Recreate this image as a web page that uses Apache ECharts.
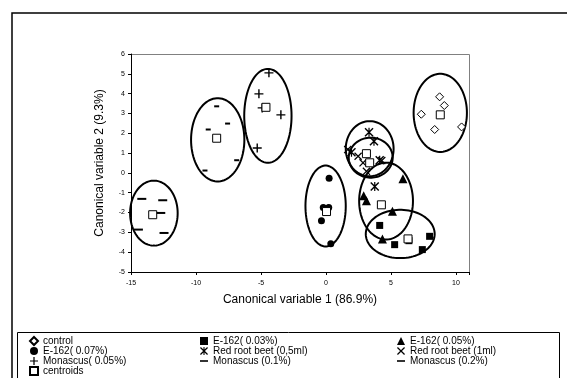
<!DOCTYPE html>
<html>
<head>
<meta charset="utf-8">
<script src="https://cdn.jsdelivr.net/npm/echarts@6/dist/echarts.min.js"></script>
<style>
  html, body { margin: 0; padding: 0; background: #fff; }
  #chart { width: 567px; height: 378px; }
</style>
</head>
<body>
<div id="chart"></div>
<script>
// Canonical discriminant scores, one pair of arrays per treatment group
const controlX = [8.74, 9.10, 7.33, 8.36, 10.43];
const controlY = [3.84, 3.40, 2.96, 2.19, 2.32];
const e162_003X = [4.13, 5.28, 6.38, 7.97, 7.41];
const e162_003Y = [-2.65, -3.62, -3.42, -3.20, -3.87];
const e162_005X = [5.92, 3.11, 5.11, 4.34, 2.90];
const e162_005Y = [-0.29, -1.40, -1.94, -3.33, -1.15];
const e162_007X = [0.24, -0.21, 0.21, -0.35, 0.37];
const e162_007Y = [-0.27, -1.74, -1.74, -2.41, -3.57];
const beet05X = [3.31, 3.69, 1.96, 4.13, 3.75];
const beet05Y = [2.05, 1.60, 1.04, 0.64, -0.68];
const beet1X = [1.67, 2.47, 2.85, 3.11, 4.29];
const beet1Y = [1.18, 0.84, 0.51, 0.08, 0.62];
const mon005X = [-4.39, -5.16, -4.91, -5.29, -3.47];
const mon005Y = [5.05, 3.99, 3.28, 1.26, 2.93];
const mon01X = [-8.41, -9.06, -7.57, -6.87, -9.31];
const mon01Y = [3.36, 2.19, 2.49, 0.64, 0.12];
const mon02X = [-14.17, -12.56, -14.43, -12.46, -12.71];
const mon02Y = [-1.31, -1.38, -2.86, -3.03, -2.02];

// Group centroids
const centroidX = [8.79, -13.33, -8.41, -4.62, 0.04, 4.26, 6.31, 3.11, 3.36];
const centroidY = [2.93, -2.11, 1.75, 3.31, -1.95, -1.61, -3.33, 0.97, 0.51];

// Confidence ellipses: centre and semi-axes in canonical units
const ellipseCx = [8.79, -13.24, -8.33, -4.47, -0.03, 3.36, 3.44, 4.62, 5.71];
const ellipseCy = [3.03, -2.03, 1.67, 2.88, -1.67, 1.22, 0.77, -1.42, -3.08];
const ellipseRx = [2.05, 1.83, 2.05, 1.82, 1.55, 1.84, 1.69, 2.07, 2.65];
const ellipseRy = [1.97, 1.64, 2.10, 2.37, 2.04, 1.39, 1.01, 1.94, 1.22];

// Axis ranges
const xMin = -15, xMax = 11, xStep = 5;
const yMin = -5, yMax = 6, yStep = 1;

const FONT = '"Liberation Sans", Arial, sans-serif';

function pairs(xs, ys) { return xs.map((x, i) => [x, ys[i]]); }

// Outline-style markers as filled paths
const PLUS = 'path://M3.8,0H5.2V9H3.8Z M0,3.8H9V5.2H0Z';
const CROSS = 'path://M0,1L1,0L9,8L8,9Z M8,0L9,1L1,9L0,8Z';
const STAR = 'path://M0,1L1,0L9,8L8,9Z M8,0L9,1L1,9L0,8Z M3.9,0H5.1V9H3.9Z';
const DASH = 'path://M0,0H10V2H0Z';

function pts(name, xs, ys, symbol, size, style) {
  return {
    name, type: 'scatter', data: pairs(xs, ys), symbol, symbolSize: size,
    itemStyle: Object.assign({ color: '#000', opacity: 1 }, style || {}),
    z: 3, silent: true
  };
}

const ellipseData = ellipseCx.map((c, i) => [c, ellipseCy[i], ellipseRx[i], ellipseRy[i]]);

const chart = echarts.init(document.getElementById('chart'), null, { renderer: 'canvas' });

const legendText = { fontFamily: FONT, fontSize: 10, color: '#000', lineHeight: 10 };
const legendBase = {
  orient: 'vertical', itemWidth: 8, itemHeight: 8, itemGap: 0, height: 80,
  textStyle: legendText, selectedMode: false, padding: 0
};

chart.setOption({
  animation: false,
  backgroundColor: '#fff',
  grid: { left: 131, right: 98, top: 54, bottom: 106, show: false },
  xAxis: {
    type: 'value', min: xMin, max: xMax, interval: xStep,
    name: 'Canonical variable 1 (86.9%)', nameLocation: 'middle', nameGap: 22,
    nameTextStyle: { fontFamily: FONT, fontSize: 12, color: '#000' },
    axisLine: { show: true, onZero: false, lineStyle: { color: '#000', width: 1 } },
    axisTick: { show: true, length: 3, lineStyle: { color: '#000' } },
    axisLabel: { fontFamily: FONT, fontSize: 7, color: '#000', margin: 8,
      formatter: v => (v % xStep === 0 ? String(v) : '') },
    splitLine: { show: false }
  },
  yAxis: {
    type: 'value', min: yMin, max: yMax, interval: yStep,
    name: 'Canonical variable 2 (9.3%)', nameLocation: 'middle', nameGap: 25,
    nameTextStyle: { fontFamily: FONT, fontSize: 12, color: '#000' },
    axisLine: { show: true, onZero: false, lineStyle: { color: '#000', width: 1 } },
    axisTick: { show: true, length: 3, lineStyle: { color: '#000' } },
    axisLabel: { fontFamily: FONT, fontSize: 7, color: '#000', margin: 6 },
    splitLine: { show: false }
  },
  legend: [
    Object.assign({ left: 29, top: 336,
      data: ['control', 'E-162( 0.07%)', 'Monascus( 0.05%)', 'centroids'] }, legendBase),
    Object.assign({ left: 200, top: 336,
      data: ['E-162( 0.03%)', 'Red root beet (0,5ml)', 'Monascus (0.1%)'] }, legendBase),
    Object.assign({ left: 397, top: 336,
      data: ['E-162( 0.05%)', 'Red root beet (1ml)', 'Monascus (0.2%)'] }, legendBase)
  ],
  graphic: [
    // outer frame and legend box
    { type: 'rect', shape: { x: 12, y: 13, width: 600, height: 420 },
      style: { fill: 'none', stroke: '#000', lineWidth: 1.5 }, silent: true, z: 0 },
    { type: 'rect', shape: { x: 17.5, y: 332.5, width: 542, height: 60 },
      style: { fill: 'none', stroke: '#000', lineWidth: 1 }, silent: true, z: 0 },
    // grey top/right plot border
    { type: 'polyline', shape: { points: [[131, 54.5], [469.5, 54.5], [469.5, 272]] },
      style: { fill: 'none', stroke: '#808080', lineWidth: 1 }, silent: true, z: 0 }
  ],
  series: [
    pts('control', controlX, controlY, 'diamond', 8,
      { color: '#fff', borderColor: '#000', borderWidth: 1 }),
    pts('E-162( 0.03%)', e162_003X, e162_003Y, 'rect', 7),
    pts('E-162( 0.05%)', e162_005X, e162_005Y, 'triangle', 9),
    pts('E-162( 0.07%)', e162_007X, e162_007Y, 'circle', 7),
    pts('Red root beet (0,5ml)', beet05X, beet05Y, STAR, 9),
    pts('Red root beet (1ml)', beet1X, beet1Y, CROSS, 8),
    pts('Monascus( 0.05%)', mon005X, mon005Y, PLUS, 9),
    pts('Monascus (0.1%)', mon01X, mon01Y, DASH, [5, 2]),
    pts('Monascus (0.2%)', mon02X, mon02Y, DASH, [9, 2]),
    pts('centroids', centroidX, centroidY, 'rect', 8,
      { color: '#fff', borderColor: '#000', borderWidth: 1 }),
    {
      name: 'ellipses', type: 'custom', data: ellipseData, silent: true, z: 2,
      renderItem: function (params, api) {
        const cx = api.value(0), cy = api.value(1), rx = api.value(2), ry = api.value(3);
        const points = [];
        for (let k = 0; k < 90; k++) {
          const t = k / 90 * Math.PI * 2;
          points.push(api.coord([cx + rx * Math.cos(t), cy + ry * Math.sin(t)]));
        }
        return { type: 'polygon', shape: { points },
          style: { fill: 'none', stroke: '#000', lineWidth: 2 } };
      }
    }
  ]
});
</script>
</body>
</html>
